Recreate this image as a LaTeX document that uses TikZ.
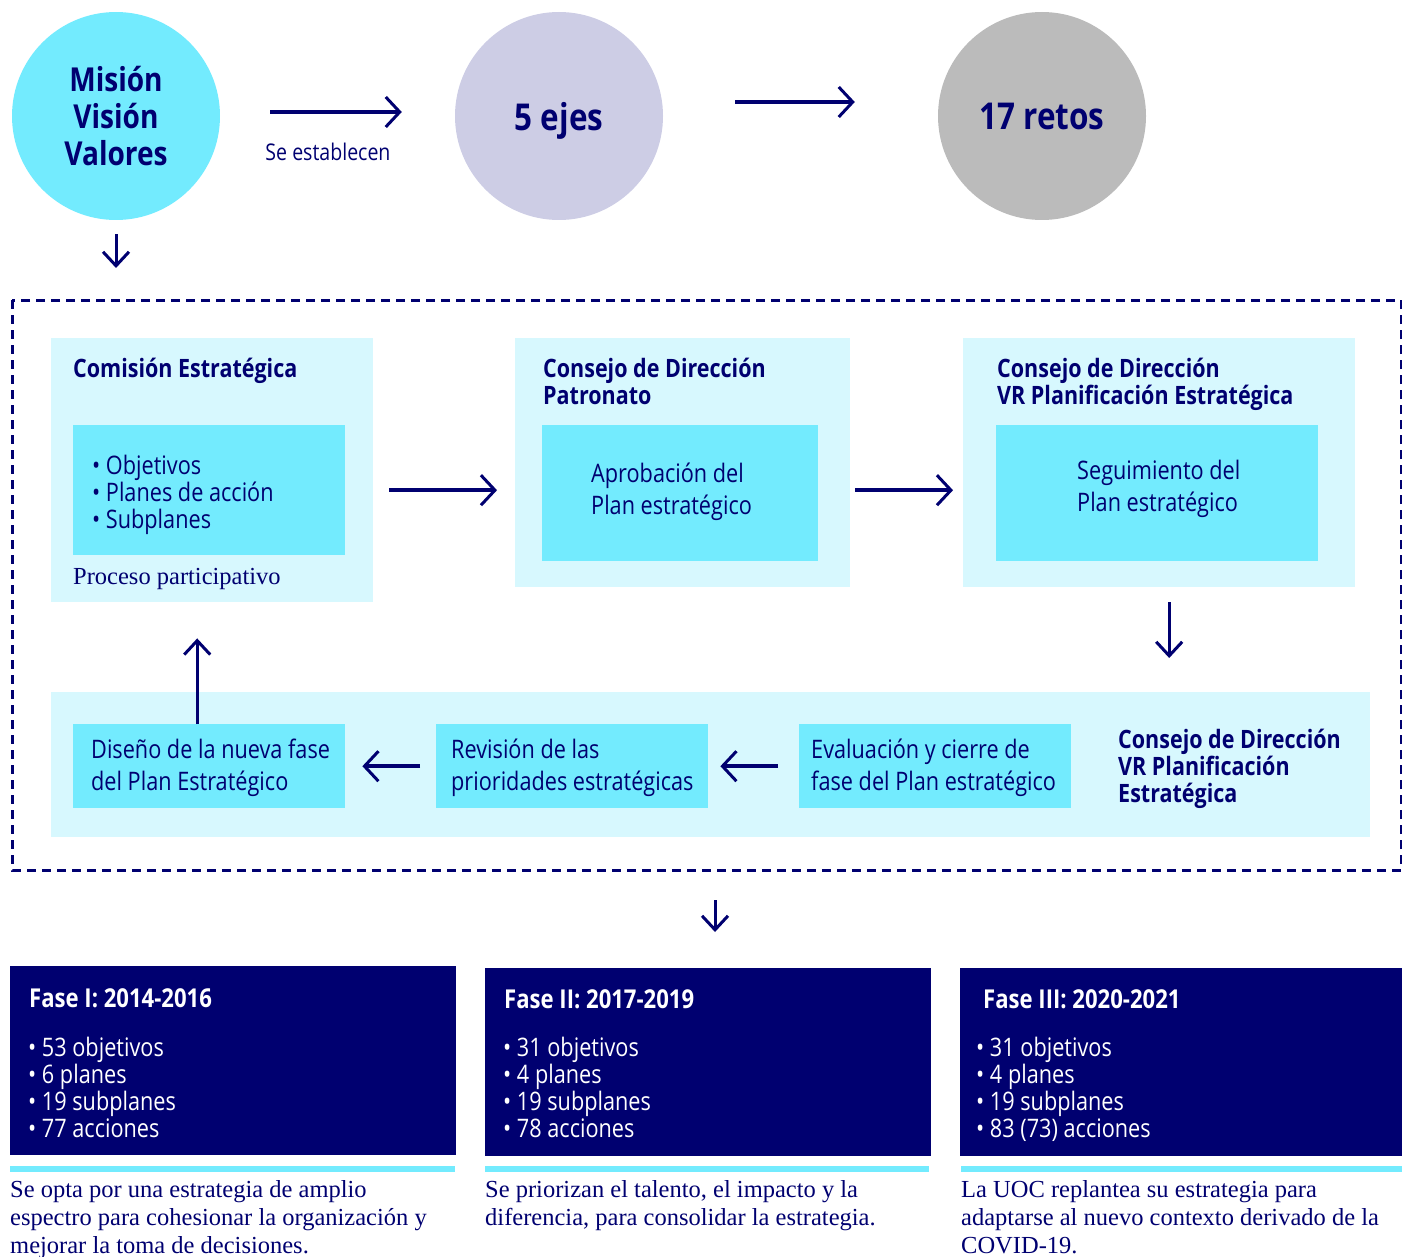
\documentclass[tikz,border=0pt]{standalone}
\usepackage{fontspec}
\setmainfont{Open Sans}[FakeStretch=0.85]
\newfontfamily\serif{Liberation Serif}
\usetikzlibrary{arrows.meta}
\definecolor{navy}{HTML}{000070}
\definecolor{cyanA}{HTML}{73EBFE}
\definecolor{cyanL}{HTML}{D7F8FE}
\definecolor{lav}{HTML}{CDCDE5}
\definecolor{grayc}{HTML}{BBBBBB}
\tikzset{
  bigarrow/.style={draw=navy, line width=4pt, -{Straight Barb[length=14pt,width=30pt,line width=3pt]}},
  thinarrow/.style={draw=navy, line width=3pt, -{Straight Barb[length=14pt,width=26pt,line width=3pt]}},
  outerbox/.style={rectangle, fill=cyanL, inner sep=0pt, anchor=north west},
  innerbox/.style={rectangle, fill=cyanA, inner sep=0pt, anchor=north west},
  phasebox/.style={rectangle, fill=navy, inner sep=0pt, anchor=north west},
  stripe/.style={rectangle, fill=cyanA, inner sep=0pt, anchor=north west, minimum height=6pt},
  circ/.style={circle, minimum size=208pt, inner sep=0pt, text=navy, font=\bfseries\fontsize{33}{37}\selectfont, align=center},
  ttl/.style={anchor=base west, inner sep=0pt, text=navy, align=left, font=\bfseries\fontsize{25.3}{27}\selectfont},
  txt/.style={anchor=base west, inner sep=0pt, text=navy, align=left, font=\fontsize{25.5}{32}\selectfont},
  ptitle/.style={anchor=base west, inner sep=0pt, text=white, font=\bfseries\fontsize{26}{27}\selectfont},
  plist/.style={anchor=base west, inner sep=0pt, text=white, align=left, font=\fontsize{25.5}{26.7}\selectfont},
  captxt/.style={anchor=base west, inner sep=0pt, text=navy, align=left, font=\serif\fontsize{24.5}{28}\selectfont},
}
\begin{document}
\begin{tikzpicture}[x=1pt,y=-1pt]
\useasboundingbox (0,0) rectangle (1402,1257);
% circles
\node[circ, fill=cyanA] (M) at (116,116) {Misión\\Visión\\Valores};
\node[circ, fill=lav, text depth=0pt, font=\bfseries\fontsize{37}{37}\selectfont] (E) at (559,116) {5 ejes};
\node[circ, fill=grayc, font=\bfseries\fontsize{37}{37}\selectfont] (R) at (1042,116) {17 retos};
\draw[bigarrow, shorten <=50pt, shorten >=53pt] ([yshift=4pt]M.east) -- ([yshift=4pt]M.east -| E.west);
\node[anchor=center, inner sep=0pt, text=navy, font=\fontsize{23}{24}\selectfont] (se) at (328,152) {Se establecen};
\draw[bigarrow, shorten <=72pt, shorten >=83pt] ([yshift=14pt]E.east) -- ([yshift=14pt]E.east -| R.west);
% frame
\draw[navy, line width=3pt, dash pattern=on 9pt off 6pt] (12,300) rectangle (1401,870);
\coordinate (ftop) at (116,300);
\draw[thinarrow, shorten <=14pt, shorten >=32pt] (M.south) -- (ftop);
% top row
\node[outerbox, minimum width=322pt, minimum height=264pt] (A) at (51,338) {};
\node[innerbox, minimum width=272pt, minimum height=130pt] (Ai) at (73,425) {};
\node[ttl] (At) at (73,377) {Comisión Estratégica};
\node[txt, font=\fontsize{25.5}{27}\selectfont] (Al) at (92,528) {• Objetivos\\• Planes de acción\\• Subplanes};
\node[captxt] (Ap) at (73,584) {Proceso participativo};

\node[outerbox, minimum width=335pt, minimum height=249pt] (B) at (515,338) {};
\node[innerbox, minimum width=276pt, minimum height=136pt] (Bi) at (542,425) {};
\node[ttl] (Bt) at (543,404) {Consejo de Dirección\\Patronato};
\node[txt] (Bl) at (591,514) {Aprobación del\\Plan estratégico};

\node[outerbox, minimum width=392pt, minimum height=249pt] (C) at (963,338) {};
\node[innerbox, minimum width=322pt, minimum height=136pt] (Ci) at (996,425) {};
\node[ttl] (Ct) at (997,404) {Consejo de Dirección\\VR Planificación Estratégica};
\node[txt] (Cl) at (1077,511) {Seguimiento del\\Plan estratégico};

\draw[bigarrow, shorten <=16pt, shorten >=18pt] (A.east |- Ai.center) -- (B.west |- Ai.center);
\draw[bigarrow, shorten <=5pt, shorten >=10pt] (B.east |- Ai.center) -- (C.west |- Ai.center);

% bottom band
\node[outerbox, minimum width=1319pt, minimum height=145pt] (band) at (51,692) {};
\node[innerbox, minimum width=272pt, minimum height=84pt] (D1) at (73,724) {};
\node[innerbox, minimum width=272pt, minimum height=84pt] (D2) at (436,724) {};
\node[innerbox, minimum width=272pt, minimum height=84pt] (D3) at (799,724) {};
\node[txt] (D1t) at (91,790) {Diseño de la nueva fase\\del Plan Estratégico};
\node[txt] (D2t) at (451,790) {Revisión de las\\prioridades estratégicas};
\node[txt] (D3t) at (811,790) {Evaluación y cierre de\\fase del Plan estratégico};
\node[ttl] (Bn) at (1118,802) {Consejo de Dirección\\VR Planificación\\Estratégica};

\draw[thinarrow, shorten <=15pt, shorten >=34pt] ([xshift=10pt]C.south) -- ([xshift=10pt]C.south |- band.north);
\draw[bigarrow, line width=3.5pt, shorten <=21pt, shorten >=12pt] (D3.west) -- (D2.east);
\draw[bigarrow, line width=3.5pt, shorten <=16pt, shorten >=17pt] (D2.west) -- (D1.east);
\draw[thinarrow, shorten >=36pt] ([xshift=-12pt]D1.north) -- ([xshift=-12pt]D1.north |- A.south);

% phases
\node[phasebox, minimum width=446pt, minimum height=189pt] (P1) at (10,966) {};
\node[phasebox, minimum width=446pt, minimum height=188pt] (P2) at (485,968) {};
\node[phasebox, minimum width=442pt, minimum height=188pt] (P3) at (960,968) {};
\coordinate (fbot) at (715,870);
\draw[thinarrow, shorten <=30pt, shorten >=36pt] (fbot) -- (fbot |- P2.north);

\node[ptitle] (P1t) at (29,1007) {Fase I: 2014-2016};
\node[ptitle] (P2t) at (504,1008) {Fase II: 2017-2019};
\node[ptitle] (P3t) at (983,1008) {Fase III: 2020-2021};
\node[plist] (P1l) at (28,1137) {• 53 objetivos\\• 6 planes\\• 19 subplanes\\• 77 acciones};
\node[plist] (P2l) at (503,1137) {• 31 objetivos\\• 4 planes\\• 19 subplanes\\• 78 acciones};
\node[plist] (P3l) at (976,1137) {• 31 objetivos\\• 4 planes\\• 19 subplanes\\• 83 (73) acciones};

\node[stripe, minimum width=445pt] (S1) at (10,1166) {};
\node[stripe, minimum width=444pt] (S2) at (485,1166) {};
\node[stripe, minimum width=441pt] (S3) at (961,1166) {};

\node[captxt] (C1) at (10,1253) {Se opta por una estrategia de amplio\\espectro para cohesionar la organización y\\mejorar la toma de decisiones.};
\node[captxt] (C2) at (485,1225) {Se priorizan el talento, el impacto y la\\diferencia, para consolidar la estrategia.};
\node[captxt] (C3) at (961,1253) {La UOC replantea su estrategia para\\adaptarse al nuevo contexto derivado de la\\COVID-19.};
\end{tikzpicture}
\end{document}
